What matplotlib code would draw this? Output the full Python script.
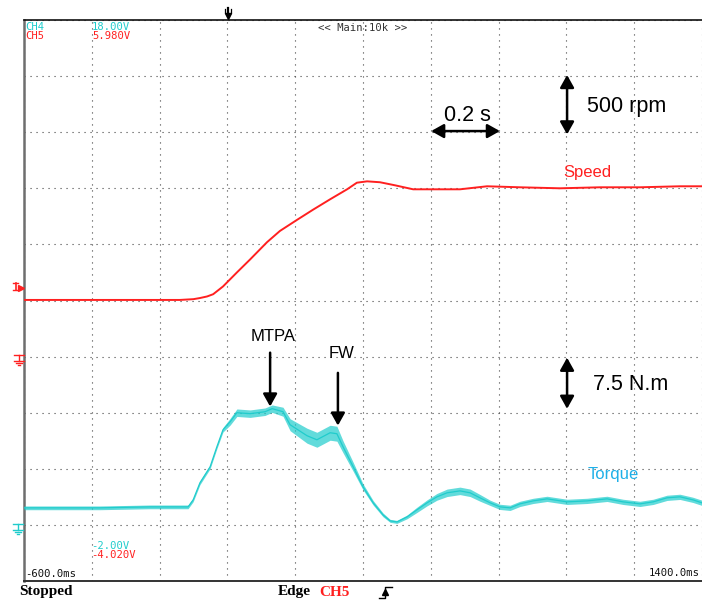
import matplotlib
matplotlib.use("Agg")
import matplotlib.pyplot as plt
from matplotlib.lines import Line2D
import numpy as np

# ---------------- data ----------------
speed_t = [-600, -140, -100, -81, -60, -42, -13, 28, 67, 117, 155, 205, 253, 303,
           353, 382, 412, 450, 494, 548, 598, 686, 766, 863, 981, 1099, 1217,
           1335, 1400]
speed_rpm = [505, 505, 512, 522, 536, 556, 625, 750, 866, 1020, 1120, 1218, 1310,
             1402, 1491, 1550, 1562, 1554, 1527, 1491, 1491, 1491, 1518, 1509, 1500,
             1509, 1509, 1518, 1518]

torque_t = [-600, -376, -228, -116, -101, -81, -51, -31, -13, 8, 28, 67, 111, 132,
            164, 185, 235, 264, 303, 323, 341, 371, 400, 430, 459, 480, 500, 530,
            559, 589, 618, 648, 686, 716, 745, 775, 804, 834, 863, 902, 943, 1002,
            1061, 1120, 1167, 1217, 1256, 1297, 1335, 1373, 1400]
torque_nm = [2.28, 2.28, 2.41, 2.41, 3.35, 5.63, 7.77, 10.45, 12.72, 13.79, 15.0,
             14.87, 15.13, 15.54, 15.13, 13.39, 11.92, 11.38, 12.32, 12.19, 10.45,
             7.77, 5.09, 2.95, 1.34, 0.54, 0.40, 1.07, 2.01, 2.95, 3.75, 4.29, 4.55,
             4.29, 3.62, 2.95, 2.41, 2.28, 2.81, 3.21, 3.48, 3.08, 3.21, 3.48, 3.08,
             2.81, 3.08, 3.62, 3.75, 3.35, 2.95]
torque_ripple = [0.25, 0.25, 0.25, 0.25, 0.25, 0.25, 0.25, 0.25, 0.3, 0.45, 0.5,
                 0.5, 0.5, 0.5, 0.6, 0.8, 1.0, 1.0, 1.0, 1.0, 0.8, 0.6, 0.4, 0.3,
                 0.25, 0.2, 0.2, 0.25, 0.35, 0.4, 0.45, 0.5, 0.5, 0.5, 0.45, 0.35,
                 0.35, 0.35, 0.35, 0.35, 0.35, 0.35, 0.35, 0.35, 0.35, 0.35, 0.35,
                 0.35, 0.35, 0.35, 0.35]

T_MIN, T_MAX = -600, 1400          # ms
N_DIV = 10
SPEED_GND, SPEED_PER_DIV = 4.0, 500.0     # divisions, rpm/div
TORQUE_GND, TORQUE_PER_DIV = 1.0, 7.5     # divisions, N.m/div

RED = "#ff2020"
CYAN = "#20cccc"
TQ_LABEL = "#1fb0e8"

W, H = 702, 601


def spd(v):
    return SPEED_GND + np.asarray(v, float) / SPEED_PER_DIV


def trq(v):
    return TORQUE_GND + np.asarray(v, float) / TORQUE_PER_DIV


def px(x, y):
    return x / W, 1 - y / H


fig = plt.figure(figsize=(W / 100, H / 100), dpi=100)
fig.patch.set_facecolor("white")
ax = fig.add_axes([24 / W, 20 / H, 678 / W, 561 / H])
ax.set_xlim(T_MIN, T_MAX)
ax.set_ylim(0, N_DIV)
ax.set_xticks(np.linspace(T_MIN, T_MAX, 11))
ax.set_yticks(np.arange(0, N_DIV + 1))
ax.tick_params(length=0, labelbottom=False, labelleft=False)
ax.grid(True, color="#444444", linewidth=0.8, linestyle=(0, (1, 4.4)))
ax.spines["right"].set_visible(False)
ax.spines["left"].set_color("#6e6e6e")
ax.spines["left"].set_linewidth(1.8)
ax.spines["top"].set_color("#111111")
ax.spines["top"].set_linewidth(1.2)
ax.spines["bottom"].set_color("#333333")
ax.spines["bottom"].set_linewidth(1.4)

# traces
tn = np.asarray(torque_nm)
tr = np.asarray(torque_ripple)
ax.fill_between(torque_t, trq(tn - tr), trq(tn + tr), color=CYAN, alpha=0.7,
                linewidth=0, zorder=3)
ax.plot(torque_t, trq(torque_nm), color=CYAN, lw=0.9, zorder=4)
ax.plot(speed_t, spd(speed_rpm), color=RED, lw=1.4, zorder=4)

# annotations
ann_font = dict(family="Liberation Sans", color="black")
arrow = dict(arrowstyle="<|-|>,head_length=0.75,head_width=0.42", color="black",
             lw=1.8, shrinkA=0, shrinkB=0, mutation_scale=10)
arrow1 = dict(arrowstyle="-|>,head_length=0.75,head_width=0.42", color="black",
              lw=1.8, shrinkA=0, shrinkB=0, mutation_scale=10)

ax.annotate("", xy=(1002, 9.02), xytext=(1002, 7.96), arrowprops=arrow)
ax.text(1061, 8.46, "500 rpm", fontsize=15.5, va="center", ha="left", **ann_font)
ax.annotate("", xy=(601, 8.02), xytext=(804, 8.02), arrowprops=arrow)
ax.text(707, 8.30, "0.2 s", fontsize=15.5, va="center", ha="center", **ann_font)
ax.annotate("", xy=(1002, 3.98), xytext=(1002, 3.07), arrowprops=arrow)
ax.text(1079, 3.5, "7.5 N.m", fontsize=15.5, va="center", ha="left", **ann_font)

ax.annotate("", xy=(126, 3.11), xytext=(126, 4.07), arrowprops=arrow1)
ax.text(135, 4.36, "MTPA", fontsize=12, va="center", ha="center", **ann_font)
ax.annotate("", xy=(326, 2.77), xytext=(326, 3.71), arrowprops=arrow1)
ax.text(338, 4.06, "FW", fontsize=12, va="center", ha="center", **ann_font)

ax.text(990, 7.29, "Speed", fontsize=12, color=RED, va="center", ha="left",
        family="Liberation Sans")
ax.text(1064, 1.89, "Torque", fontsize=12, color=TQ_LABEL, va="center", ha="left",
        family="Liberation Sans")

# oscilloscope readouts
mono = dict(family="DejaVu Sans Mono", fontsize=7.6, va="center", ha="left")
fig.text(*px(25, 27), "CH4", color=CYAN, **mono)
fig.text(*px(92, 27), "18.00V", color=CYAN, **mono)
fig.text(*px(25, 36), "CH5", color=RED, **mono)
fig.text(*px(92, 36), "5.980V", color=RED, **mono)
fig.text(*px(318, 28), "<< Main:10k >>", color="#333333", **mono)
fig.text(*px(91, 546), "-2.00V", color=CYAN, **mono)
fig.text(*px(91, 555), "-4.020V", color=RED, **mono)
fig.text(*px(25, 574), "-600.0ms", color="#111111", **mono)
fig.text(*px(649, 573), "1400.0ms", color="#111111", **mono)

serif = dict(family="Liberation Serif", fontsize=11, fontweight="bold", va="center",
             ha="left")
fig.text(*px(19, 592), "Stopped", color="black", **serif)
fig.text(*px(278, 592), "Edge", color="black", **serif)
fig.text(*px(319, 592), "CH5", color=RED, **serif)


def fline(xs, ys, color, lw=1.0):
    fx = [x / W for x in xs]
    fy = [1 - y / H for y in ys]
    fig.add_artist(Line2D(fx, fy, color=color, lw=lw, transform=fig.transFigure))


# edge symbol
fline([379, 385, 385, 392], [598, 598, 587, 587], "black", 1.0)
fig.add_artist(Line2D([385 / W], [1 - 592 / H], marker="^", markersize=4.5,
                      color="black", transform=fig.transFigure))

# trigger position marker (top)
fline([228, 228], [8, 15], "black", 1.6)
fline([225, 225], [9, 13], "black", 0.9)
fline([231, 231], [9, 13], "black", 0.9)
fig.add_artist(Line2D([228 / W], [1 - 16 / H], marker="v", markersize=4.5,
                      color="black", transform=fig.transFigure))

# left channel markers
fline([13, 18], [283, 283], RED, 1.0)
fline([15.5, 15.5], [283, 290], RED, 1.2)
fline([13, 18], [290, 290], RED, 1.0)
fig.add_artist(Line2D([21 / W], [1 - 287.5 / H], marker=">", markersize=4,
                      color=RED, transform=fig.transFigure))


def ground(x, y, color):
    fline([x - 5, x + 5], [y, y], color, 1.0)
    fline([x, x], [y, y + 6], color, 1.0)
    fline([x - 5, x + 5], [y + 6, y + 6], color, 1.0)
    fline([x - 3, x + 3], [y + 8, y + 8], color, 1.0)
    fline([x - 1, x + 1], [y + 10, y + 10], color, 1.0)


ground(19, 355, RED)
ground(18, 524, CYAN)

fig.savefig("out.png", dpi=100, facecolor="white")
